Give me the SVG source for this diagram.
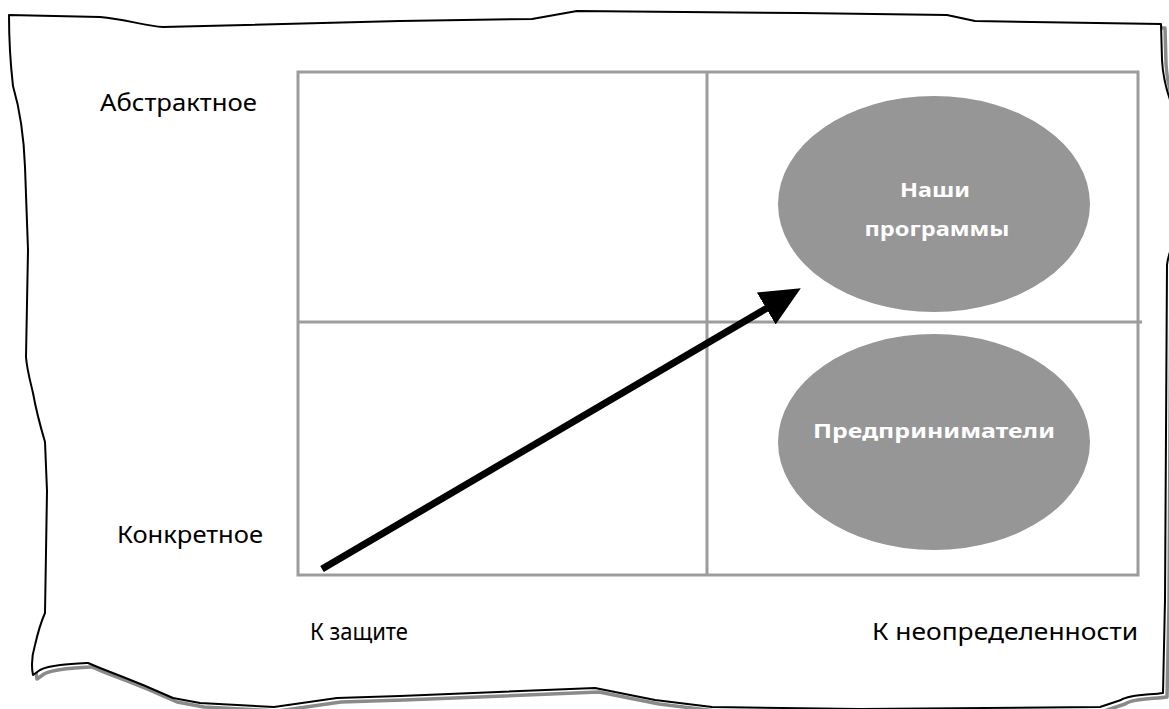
<svg xmlns="http://www.w3.org/2000/svg" width="1169" height="709" viewBox="0 0 1169 709">
<style>
.paper{fill:#fff;stroke:#000;stroke-width:2;stroke-linejoin:round}
.shadow{fill:none;stroke:#8a8a8a;stroke-width:3.5;stroke-linejoin:round}
.grid{fill:none;stroke:#9c9c9c;stroke-width:3}
.blob{fill:#969696}
.lbl{font-family:"Comic Sans MS","Noto Sans",sans-serif;font-size:23px;fill:#000}
.in{font-family:"Comic Sans MS","Noto Sans",sans-serif;font-size:19px;font-weight:bold;fill:#fff;text-anchor:middle}
.arrow{stroke:#000;stroke-width:7;fill:none}
</style>
<defs>
<path id="paperPath" d="M9,15 L100,17 C125,19 145,26 163,27 L400,21 L532,19 L577,11 L800,13 L947,15 L975,21 L1161,24 L1162,60 C1163,78 1166,90 1172,105 L1175,240 C1170,250 1168,256 1167,265 L1165,600 L1163,693 C1150,695 1130,694 1121,700 L1100,707 L860,709 L712,707 L655,700 L595,688 L400,696 L337,698 L274,707 L200,703 L173,698 L143,685 L123,677 L100,668 L88,663 C70,664 50,665 40,670 L33,675 C31,665 32,655 35,645 C38,632 41,622 45,613 L47,491 L45,442 C40,425 36,410 33,393 C30,380 27,370 26,357 L28,250 L25,167 C24,140 20,110 13,86 C10,60 9,35 9,15 Z"/>
<marker id="head" viewBox="0 0 40 37" markerWidth="40" markerHeight="37" refX="2" refY="18.5" orient="auto" markerUnits="userSpaceOnUse">
<path d="M0,0 L40,18.5 L0,37 Z" fill="#000"/>
</marker>
</defs>
<g id="paper">
<use href="#paperPath" class="shadow" transform="translate(4,4)"/>
<use href="#paperPath" class="paper"/>
</g>
<g id="grid">
<rect x="298" y="72" width="840" height="503" class="grid"/>
<line x1="707" y1="72" x2="707" y2="575" class="grid"/>
<line x1="298" y1="322" x2="1142" y2="322" class="grid"/>
</g>
<g id="axis-labels">
<text id="lbl-abstract" class="lbl" x="100" y="111" textLength="157" lengthAdjust="spacingAndGlyphs">Абстрактное</text>
<text id="lbl-concrete" class="lbl" x="117" y="543" textLength="146" lengthAdjust="spacingAndGlyphs">Конкретное</text>
<text id="lbl-protect" class="lbl" x="310" y="640" textLength="98" lengthAdjust="spacingAndGlyphs">К защите</text>
<text id="lbl-uncertain" class="lbl" x="872" y="640" textLength="266" lengthAdjust="spacingAndGlyphs">К неопределенности</text>
</g>
<g id="node-programs">
<ellipse cx="934" cy="204" rx="156" ry="108" class="blob"/>
<text class="in" x="935" y="197" textLength="70" lengthAdjust="spacingAndGlyphs">Наши</text>
<text class="in" x="937" y="236" textLength="145" lengthAdjust="spacingAndGlyphs">программы</text>
</g>
<g id="node-entrepreneurs">
<ellipse cx="934" cy="442" rx="156" ry="108" class="blob"/>
<text class="in" x="934" y="438" textLength="242" lengthAdjust="spacingAndGlyphs">Предприниматели</text>
</g>
<g id="connectors">
<line x1="322" y1="569" x2="768" y2="307.5" class="arrow" marker-end="url(#head)"/>
</g>
</svg>
